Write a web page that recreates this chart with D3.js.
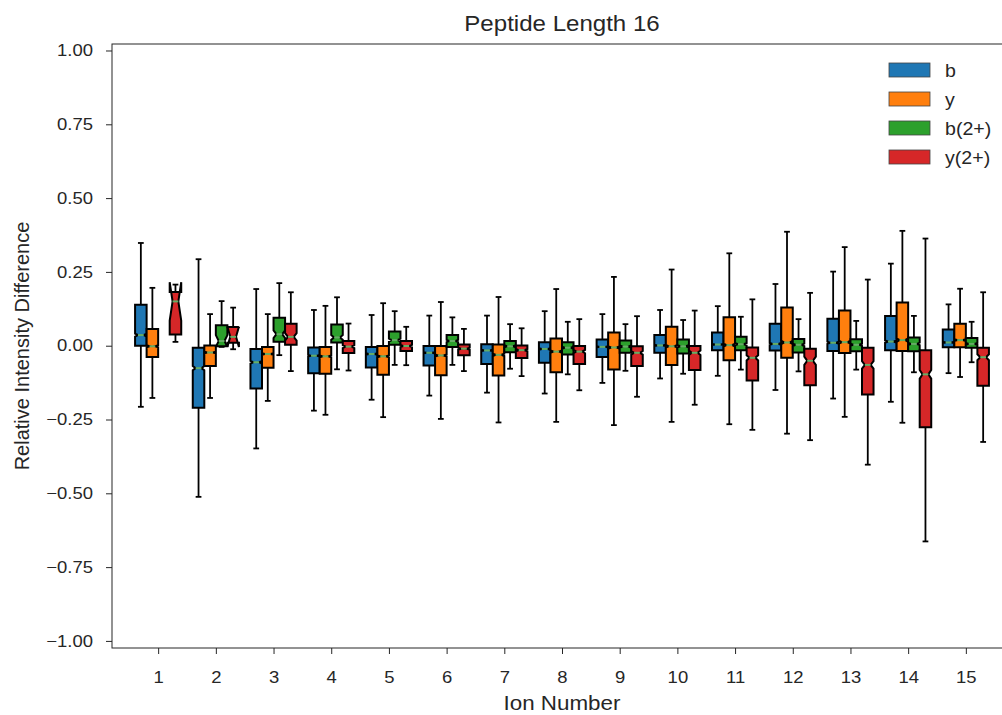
<!DOCTYPE html>
<html>
<head>
<meta charset="utf-8">
<script src="https://cdn.jsdelivr.net/npm/d3@7"></script>
<style>
  html, body { margin: 0; padding: 0; background: #ffffff; }
  svg text { font-family: "Liberation Sans", Arial, sans-serif; fill: #262626; }
</style>
</head>
<body>
<svg id="chart" width="1002" height="715"></svg>
<script>
// Ion numbers on the x axis
const ions = [1, 2, 3, 4, 5, 6, 7, 8, 9, 10, 11, 12, 13, 14, 15];

// Series names and colours
const seriesNames = ["b", "y", "b(2+)", "y(2+)"];
const seriesColors = ["#1f77b4", "#ff7f0e", "#2ca02c", "#d62728"];

// Box statistics per ion: [whisker low, Q1, median, Q3, whisker high]
const bStats = [
  [-0.207, 0.000, 0.036, 0.139, 0.348],
  [-0.512, -0.210, -0.076, -0.007, 0.293],
  [-0.348, -0.145, -0.056, -0.011, 0.192],
  [-0.220, -0.093, -0.034, -0.006, 0.121],
  [-0.183, -0.074, -0.028, -0.004, 0.104],
  [-0.169, -0.067, -0.024, -0.001, 0.102],
  [-0.159, -0.062, -0.016, 0.005, 0.102],
  [-0.162, -0.058, -0.011, 0.012, 0.117],
  [-0.126, -0.038, -0.004, 0.021, 0.107],
  [-0.111, -0.024, 0.001, 0.036, 0.121],
  [-0.102, -0.015, 0.004, 0.045, 0.134],
  [-0.150, -0.016, 0.006, 0.074, 0.209],
  [-0.179, -0.018, 0.010, 0.091, 0.251],
  [-0.190, -0.015, 0.014, 0.101, 0.278],
  [-0.093, -0.005, 0.011, 0.055, 0.140]
];
const yStats = [
  [-0.177, -0.038, -0.002, 0.057, 0.196],
  [-0.177, -0.069, -0.023, 0.001, 0.107],
  [-0.187, -0.075, -0.028, -0.004, 0.107],
  [-0.234, -0.095, -0.036, -0.004, 0.135],
  [-0.242, -0.098, -0.036, -0.001, 0.144],
  [-0.248, -0.100, -0.033, -0.001, 0.148],
  [-0.260, -0.101, -0.031, 0.004, 0.165],
  [-0.258, -0.090, -0.020, 0.024, 0.192],
  [-0.269, -0.081, -0.006, 0.045, 0.233],
  [-0.258, -0.065, -0.002, 0.064, 0.258],
  [-0.266, -0.049, 0.002, 0.096, 0.313],
  [-0.298, -0.041, 0.011, 0.129, 0.386],
  [-0.241, -0.025, 0.012, 0.119, 0.334],
  [-0.261, -0.018, 0.019, 0.146, 0.389],
  [-0.106, -0.005, 0.019, 0.074, 0.193]
];
const b2Stats = [
  null,
  [-0.004, -0.002, 0.016, 0.069, 0.151],
  [-0.032, 0.013, 0.039, 0.095, 0.212],
  [-0.080, 0.011, 0.028, 0.072, 0.164],
  [-0.065, 0.003, 0.019, 0.048, 0.117],
  [-0.065, -0.004, 0.016, 0.036, 0.096],
  [-0.078, -0.022, -0.002, 0.016, 0.073],
  [-0.097, -0.030, -0.007, 0.012, 0.081],
  [-0.085, -0.024, -0.003, 0.018, 0.073],
  [-0.095, -0.026, -0.002, 0.021, 0.087],
  [-0.081, -0.015, 0.005, 0.030, 0.098],
  [-0.087, -0.023, 0.003, 0.023, 0.090],
  [-0.081, -0.019, 0.003, 0.022, 0.084],
  [-0.090, -0.019, 0.006, 0.028, 0.101],
  [-0.056, -0.007, 0.006, 0.026, 0.081]
];
const y2Stats = [
  [0.013, 0.038, 0.150, 0.182, 0.207],
  [-0.012, 0.010, 0.030, 0.063, 0.129],
  [-0.086, 0.003, 0.030, 0.074, 0.181],
  [-0.084, -0.025, -0.003, 0.016, 0.075],
  [-0.066, -0.018, -0.001, 0.016, 0.064],
  [-0.086, -0.032, -0.010, 0.004, 0.057],
  [-0.103, -0.042, -0.015, 0.001, 0.059],
  [-0.151, -0.062, -0.020, -0.001, 0.090],
  [-0.173, -0.069, -0.024, -0.002, 0.100],
  [-0.200, -0.082, -0.024, -0.001, 0.119],
  [-0.285, -0.118, -0.041, -0.006, 0.157],
  [-0.320, -0.134, -0.051, -0.010, 0.179],
  [-0.403, -0.165, -0.065, -0.007, 0.224],
  [-0.663, -0.276, -0.097, -0.015, 0.363],
  [-0.326, -0.136, -0.039, -0.007, 0.181]
];

// Sample counts per ion, used for the median confidence notches
const bCounts  = [2000, 2000, 2000, 2000, 2000, 2000, 2000, 2000, 2000, 2000, 2000, 2000, 2000, 2000, 2000];
const yCounts  = [2000, 2000, 2000, 2000, 2000, 2000, 2000, 2000, 2000, 2000, 2000, 2000, 2000, 2000, 2000];
const b2Counts = [0, 31, 100, 150, 200, 250, 300, 300, 300, 300, 300, 300, 300, 300, 300];
const y2Counts = [12, 6, 80, 150, 200, 250, 300, 300, 300, 300, 400, 200, 400, 800, 400];

const yTicks = [-1.00, -0.75, -0.50, -0.25, 0.00, 0.25, 0.50, 0.75, 1.00];

const allStats = [bStats, yStats, b2Stats, y2Stats];
const allCounts = [bCounts, yCounts, b2Counts, y2Counts];
const offsets = [-0.3, -0.1, 0.1, 0.3];
const boxWidth = 0.2;

// Horizontal text stretch of the figure's type
const sx = 1.12;

const svg = d3.select("#chart");
const plotLeft = 112, plotRight = 1012, plotTop = 44, plotBottom = 648;

const x = d3.scaleLinear().domain([0.2, 15.8]).range([plotLeft, plotRight]);
const y = d3.scaleLinear().domain([-1.024, 1.022]).range([plotBottom, plotTop]);

// Places a horizontally stretched text at (px, py)
function stretchedText(parent, px, py, str, size, anchor) {
  return parent.append("g")
    .attr("transform", `translate(${px},${py}) scale(${sx},1)`)
    .append("text")
    .attr("text-anchor", anchor || "start")
    .style("font-size", size + "px")
    .text(str);
}

// Title
stretchedText(svg, (plotLeft + plotRight) / 2, 31, "Peptide Length 16", 21.5, "middle");

// Boxes
const boxes = [];
allStats.forEach((stats, s) => {
  stats.forEach((st, i) => {
    if (!st) return;
    boxes.push({ s, ion: ions[i], st, n: allCounts[s][i] });
  });
});

const plot = svg.append("g");

boxes.forEach(d => {
  const [lo, q1, med, q3, hi] = d.st;
  const pos = d.ion + offsets[d.s];
  const bl = x(pos - boxWidth / 2), br = x(pos + boxWidth / 2);
  const cl = x(pos - boxWidth / 4), cr = x(pos + boxWidth / 4);
  const half = 1.57 * (q3 - q1) / Math.sqrt(d.n);
  const nlo = med - half, nhi = med + half;
  const g = plot.append("g");

  // whiskers
  g.append("line").attr("x1", x(pos)).attr("x2", x(pos)).attr("y1", y(q1)).attr("y2", y(lo))
    .attr("stroke", "#000").attr("stroke-width", 1.8);
  g.append("line").attr("x1", x(pos)).attr("x2", x(pos)).attr("y1", y(q3)).attr("y2", y(hi))
    .attr("stroke", "#000").attr("stroke-width", 1.8);
  // caps
  g.append("line").attr("x1", cl).attr("x2", cr).attr("y1", y(lo)).attr("y2", y(lo))
    .attr("stroke", "#000").attr("stroke-width", 1.8);
  g.append("line").attr("x1", cl).attr("x2", cr).attr("y1", y(hi)).attr("y2", y(hi))
    .attr("stroke", "#000").attr("stroke-width", 1.8);

  // notched box outline
  const pts = [
    [bl, y(q1)], [br, y(q1)], [br, y(nlo)], [cr, y(med)], [br, y(nhi)],
    [br, y(q3)], [bl, y(q3)], [bl, y(nhi)], [cl, y(med)], [bl, y(nlo)]
  ];
  g.append("path")
    .attr("d", d3.line()(pts) + "Z")
    .attr("fill", seriesColors[d.s])
    .attr("stroke", "#000")
    .attr("stroke-width", 2)
    .attr("stroke-linejoin", "miter");

  // median
  g.append("line").attr("x1", cl).attr("x2", cr).attr("y1", y(med)).attr("y2", y(med))
    .attr("stroke", "#65ad65").attr("stroke-width", 2);
});

// Frame
svg.append("rect")
  .attr("x", plotLeft).attr("y", plotTop)
  .attr("width", plotRight - plotLeft).attr("height", plotBottom - plotTop)
  .attr("fill", "none").attr("stroke", "#262626").attr("stroke-width", 1);

// Y axis
const yAxis = svg.append("g")
  .attr("transform", `translate(${plotLeft},0)`)
  .call(d3.axisLeft(y).tickValues(yTicks).tickSize(6).tickPadding(13)
    .tickFormat(v => d3.format(".2f")(v).replace("-", "\u2212")));
yAxis.select(".domain").remove();
yAxis.selectAll(".tick line").attr("stroke", "#262626");
yAxis.selectAll(".tick text")
  .style("font-size", "16.5px").attr("fill", "#262626")
  .attr("x", -19 / sx)
  .attr("transform", `scale(${sx},1)`);

// X axis
const xAxis = svg.append("g")
  .attr("transform", `translate(0,${plotBottom})`)
  .call(d3.axisBottom(x).tickValues(ions).tickSize(6).tickPadding(17).tickFormat(d3.format("d")));
xAxis.select(".domain").remove();
xAxis.selectAll(".tick line").attr("stroke", "#262626");
xAxis.selectAll(".tick text")
  .style("font-size", "16.5px").attr("fill", "#262626")
  .attr("transform", `scale(${sx},1)`);

// Axis labels
stretchedText(svg, (plotLeft + plotRight) / 2, 710, "Ion Number", 20, "middle");
svg.append("text")
  .attr("transform", `translate(29,${(plotTop + plotBottom) / 2}) rotate(-90)`)
  .attr("text-anchor", "middle")
  .style("font-size", "20px")
  .text("Relative Intensity Difference");

// Legend
const legend = svg.append("g");
seriesNames.forEach((name, i) => {
  const ly = 63 + i * 29;
  legend.append("rect")
    .attr("x", 889).attr("y", ly).attr("width", 41).attr("height", 14)
    .attr("fill", seriesColors[i]).attr("stroke", "#444").attr("stroke-width", 0.8);
  stretchedText(legend, 945, ly + 13.5, name, 17.5, "start");
});
</script>
</body>
</html>
